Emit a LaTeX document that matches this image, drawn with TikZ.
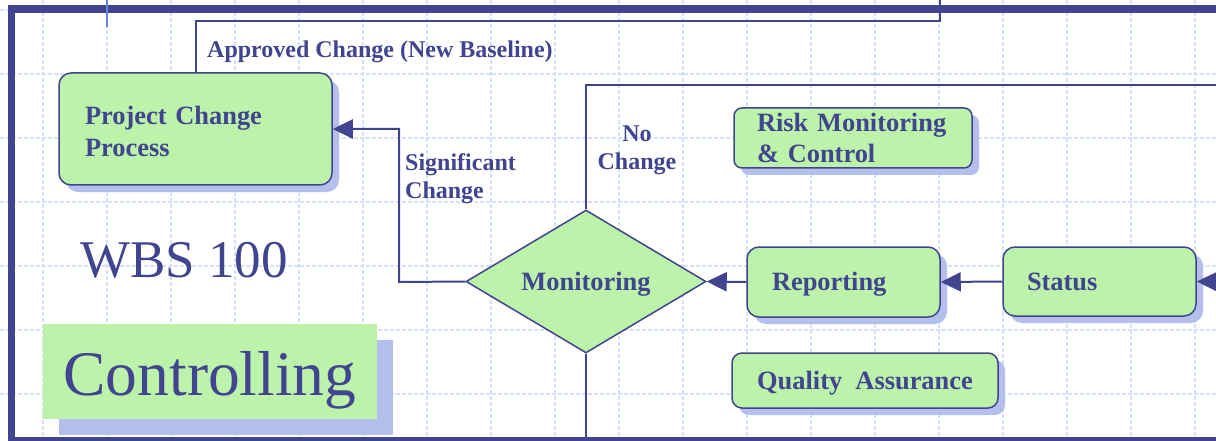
\documentclass[tikz,border=0pt]{standalone}
\usepackage{fontspec}
\setmainfont{Liberation Serif}
\usetikzlibrary{shapes.geometric,arrows.meta,shadows}
\definecolor{navy}{RGB}{65,68,143}
\definecolor{boxgreen}{RGB}{188,242,170}
\definecolor{shade}{RGB}{180,192,236}
\definecolor{gridc}{RGB}{214,224,251}
\definecolor{lineblue}{RGB}{100,130,232}
\newcommand\ndfont{\bfseries\fontsize{26.4}{31}\selectfont}
\newcommand\lbfont{\bfseries\fontsize{24}{28}\selectfont}
\begin{document}
\begin{tikzpicture}[x=1pt,y=-1pt,
  gridline/.style={draw=gridc, line width=1.3pt, dash pattern=on 4pt off 2pt},
  box/.style={draw=navy, line width=1.5pt, fill=boxgreen, rounded corners=12pt,
    text=navy, font=\ndfont, inner ysep=0pt,
    drop shadow={shadow xshift=7pt, shadow yshift=-7pt, fill=shade, opacity=1}},
  oneline/.style={text height=17.5pt, text depth=0pt},
  conn/.style={draw=navy, line width=2pt},
  arr/.style={conn, -{Triangle[length=20pt, width=19pt]}},
  lbl/.style={text=navy, font=\lbfont, inner sep=0pt}]
\useasboundingbox (0,0) rectangle (1216,441);
\clip (0,0) rectangle (1216,441);
\fill[white] (0,0) rectangle (1216,441);
% grid
\foreach \x in {43,107,...,1195} \draw[gridline] (\x,0) -- (\x,441);
\foreach \y in {10,74,...,394} \draw[gridline] (0,\y) -- (1216,\y);
% frame
\draw[navy, line width=7.5pt] (11.5,9.2) rectangle (1250,440.5);
\draw[lineblue, line width=1.5pt] (107,-1) -- (107,27);
% nodes
\node[box, minimum width=273pt, minimum height=112pt, inner xsep=26pt, text width=221pt, align=left, font=\bfseries\fontsize{26.4}{32}\selectfont] (pcp) at (195.5,129) {\rule{0pt}{23pt}Project Change\\Process};
\node[box, rounded corners=8pt, minimum width=238pt, minimum height=60pt, inner xsep=23pt, text width=192pt, align=left] (risk) at (853,138) {Risk Monitoring\\\& Control};
\node[box, oneline, minimum width=193pt, minimum height=70pt, inner xsep=25pt, text width=143pt, align=left] (rep) at (843.5,282) {Reporting};
\node[box, oneline, minimum width=193pt, minimum height=69pt, inner xsep=24pt, text width=145pt, align=left] (sta) at (1099.5,281.5) {Status};
\node[box, oneline, rounded corners=10pt, minimum width=266pt, minimum height=55pt, inner xsep=0pt] (qa) at (865,380.5) {Quality~~Assurance};
\node[diamond, draw=navy, line width=1.5pt, fill=boxgreen, text=navy, font=\ndfont, oneline, inner sep=0pt, minimum width=240pt, minimum height=143pt, aspect=1.678] (mon) at (586,281.5) {Monitoring};
\node[fill=boxgreen, text=navy, font=\fontsize{63.5}{70}\selectfont, text height=47pt, text depth=0pt, inner sep=0pt, minimum width=334pt, minimum height=95pt,
  drop shadow={shadow xshift=16pt, shadow yshift=-16pt, fill=shade, opacity=1}] (ctl) at (210,371.5) {Controlling};
\node[text=navy, font=\fontsize{53}{60}\selectfont, inner sep=0pt, anchor=base west] (wbs) at (80,277) {WBS 100};
% labels
\node[lbl, anchor=base west] (lapp) at (207,58) {Approved Change (New Baseline)};
\node[lbl, anchor=north west, align=left] (lsig) at (405,153.5) {Significant\\Change};
\node[lbl, anchor=north, align=center] (lno) at (637,125.6) {No\\Change};
% coordinates
\coordinate (appc) at (195.5,21.5);
\coordinate (appr) at (940,21.5);
\coordinate (apptop) at (940,-2);
\coordinate (sigc) at (399,282);
\coordinate (ncc) at (1250,85);
\coordinate (monbot) at (586,445);
\coordinate (stin) at (1250,282);
% connectors
\draw[conn] (pcp.north) -- (appc) -- (appr) -- (apptop);
\draw[arr] (mon.west) -- (sigc) |- (pcp.east);
\draw[conn] (mon.north) |- (ncc);
\draw[conn] (mon.south) -- (monbot);
\draw[arr] (rep.west) -- (mon.east);
\draw[arr] (sta.west) -- (rep.east);
\draw[arr] (stin) -- (sta.east);
\end{tikzpicture}
\end{document}
